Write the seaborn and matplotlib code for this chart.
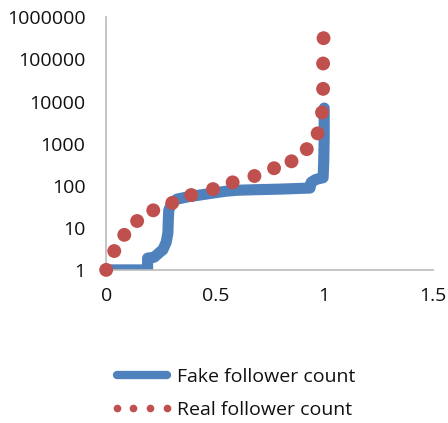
import matplotlib
matplotlib.use("Agg")
import matplotlib.pyplot as plt
from matplotlib.lines import Line2D
import seaborn as sns
import pandas as pd

# fake follower count curve (fraction of accounts, follower count)
fake_x = [0, 0.10, 0.19, 0.19, 0.22, 0.245, 0.26, 0.275, 0.283, 0.285, 0.287,
          0.30, 0.325, 0.38, 0.43, 0.50, 0.55, 0.60, 0.675, 0.80, 0.935,
          0.94, 0.96, 0.995, 0.998, 1.0, 1.0]
fake_y = [1, 1, 1, 1.9, 2, 2.6, 3, 4.5, 7.5, 15, 26,
          38, 48, 55, 60, 68, 74, 78, 80, 83, 88,
          120, 140, 155, 400, 1500, 7000]

# real follower count points
real_x = [0.0, 0.037, 0.083, 0.142, 0.216, 0.303, 0.39, 0.49, 0.58, 0.68,
          0.77, 0.85, 0.92, 0.97, 0.99, 0.995, 0.995, 0.997]
real_y = [1, 2.8, 6.8, 14.5, 26, 39, 60, 83, 120, 170,
          260, 380, 740, 1750, 5500, 20000, 80000, 320000]

BLUE = "#4F81BD"
RED = "#C0504D"

sns.set_style("white")
plt.rcParams['font.family'] = ['Open Sans', 'DejaVu Sans']

fake = pd.DataFrame({"x": fake_x, "y": fake_y})
real = pd.DataFrame({"x": real_x, "y": real_y})

fig = plt.figure(figsize=(4.48, 4.23), dpi=100)
ax = fig.add_axes([0.237, 0.362, 0.730, 0.597])

sns.lineplot(data=fake, x="x", y="y", ax=ax, color=BLUE, lw=8,
             estimator=None, sort=False, solid_capstyle="round",
             solid_joinstyle="round", zorder=2)
sns.scatterplot(data=real, x="x", y="y", ax=ax, color=RED, s=100,
                edgecolor="none", zorder=3, clip_on=False)

ax.set_yscale("log")
ax.set_ylim(1, 1000000)
ax.set_xlim(0, 1.5)
ax.set_xticks([0, 0.5, 1, 1.5])
ax.set_xticklabels(["0", "0.5", "1", "1.5"])
ax.set_yticks([1, 10, 100, 1000, 10000, 100000, 1000000])
ax.set_yticklabels(["1", "10", "100", "1000", "10000", "100000", "1000000"])
ax.minorticks_off()
ax.set_xlabel("")
ax.set_ylabel("")
ax.tick_params(axis="both", length=0, labelsize=14, colors="#111111")
ax.tick_params(axis="x", pad=12)
ax.tick_params(axis="y", pad=15)
for s in ["top", "right"]:
    ax.spines[s].set_visible(False)
for s in ["left", "bottom"]:
    ax.spines[s].set_color("#BBBBBB")
    ax.spines[s].set_linewidth(1.2)

handles = [
    Line2D([], [], color=BLUE, lw=6, solid_capstyle="round"),
    Line2D([], [], color=RED, ls="none", marker="o", markersize=5.5,
           markeredgecolor="none"),
]
fig.legend(handles, ["Fake follower count", "Real follower count"],
           loc="center", bbox_to_anchor=(0.52, 0.07), frameon=False,
           fontsize=14, handlelength=3.2, handletextpad=0.2,
           numpoints=4, labelspacing=0.8, labelcolor="#111111")

fig.savefig("out.png", dpi=100)
